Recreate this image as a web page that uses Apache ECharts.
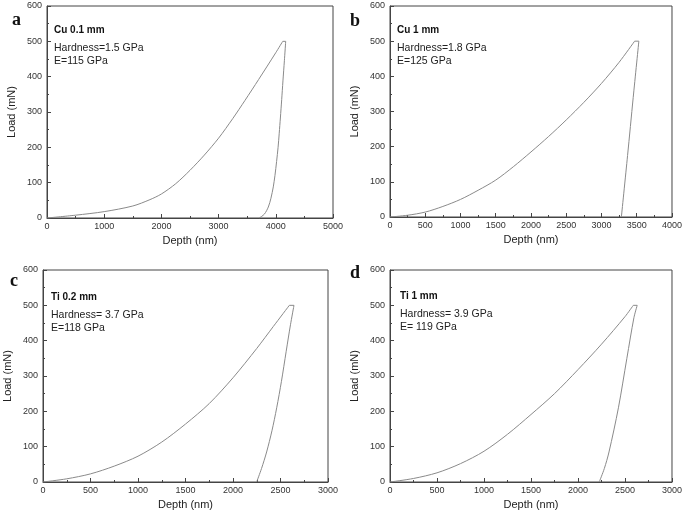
<!DOCTYPE html>
<html>
<head>
<meta charset="utf-8">
<script src="https://cdn.jsdelivr.net/npm/echarts@6/dist/echarts.min.js"></script>
<style>html,body{margin:0;padding:0;background:#fff}#c{width:685px;height:514px}</style>
</head>
<body>
<div id="c"></div>
<script>
// ---- Panel a: Cu 0.1 mm ----
const aLoadDepth   = [0, 500, 1000, 1500, 1800, 2000, 2250, 2500, 2750, 3000, 3250, 3462, 3700, 4000, 4121];
const aLoadForce   = [0, 8, 18, 34, 52, 68, 97, 135, 178, 226, 282, 333, 392, 468, 500];
const aUnloadDepth = [4173, 4150, 4125, 4103, 4080, 4060, 4040, 4014, 3985, 3956, 3915, 3869, 3800, 3712];
const aUnloadForce = [500, 445, 388, 335, 283, 240, 200, 160, 120, 88, 56, 31, 11, 0];
// ---- Panel b: Cu 1 mm ----
const bLoadDepth   = [0, 250, 500, 750, 1000, 1250, 1500, 1750, 2000, 2250, 2500, 2750, 3000, 3250, 3470];
const bLoadForce   = [0, 5, 14, 30, 50, 76, 105, 143, 185, 229, 276, 326, 380, 440, 500];
const bUnloadDepth = [3530, 3450, 3370, 3282];
const bUnloadForce = [500, 340, 175, 0];
// ---- Panel c: Ti 0.2 mm ----
const cLoadDepth   = [0, 250, 500, 750, 1000, 1250, 1500, 1750, 2000, 2250, 2424, 2593];
const cLoadForce   = [0, 9, 23, 45, 73, 113, 164, 222, 295, 378, 440, 500];
const cUnloadDepth = [2642, 2605, 2560, 2510, 2460, 2410, 2354, 2300, 2249];
const cUnloadForce = [500, 445, 370, 285, 210, 145, 85, 38, 0];
// ---- Panel d: Ti 1 mm ----
const dLoadDepth   = [0, 250, 500, 750, 1000, 1250, 1500, 1750, 2000, 2250, 2500, 2588];
const dLoadForce   = [0, 10, 26, 52, 87, 135, 191, 250, 318, 390, 468, 500];
const dUnloadDepth = [2630, 2595, 2520, 2430, 2330, 2280, 2226];
const dUnloadForce = [500, 465, 350, 210, 85, 38, 0];

const panelLetters = ['a', 'b', 'c', 'd'];
const sampleNames = ['Cu 0.1 mm', 'Cu 1 mm', 'Ti 0.2 mm', 'Ti 1 mm'];
const hardnessTexts = ['Hardness=1.5 GPa', 'Hardness=1.8 GPa', 'Hardness= 3.7 GPa', 'Hardness= 3.9 GPa'];
const modulusTexts = ['E=115 GPa', 'E=125 GPa', 'E=118 GPa', 'E= 119 GPa'];
const xMaxes = [5000, 4000, 3000, 3000];
const xIntervals = [1000, 500, 500, 500];
const yTicks = [0, 100, 200, 300, 400, 500, 600];

const loadDepths = [aLoadDepth, bLoadDepth, cLoadDepth, dLoadDepth];
const loadForces = [aLoadForce, bLoadForce, cLoadForce, dLoadForce];
const unloadDepths = [aUnloadDepth, bUnloadDepth, cUnloadDepth, dUnloadDepth];
const unloadForces = [aUnloadForce, bUnloadForce, cUnloadForce, dUnloadForce];

const grids = [
  {left: 47, top: 6, width: 286, height: 212},
  {left: 390, top: 6, width: 284, height: 211},
  {left: 43, top: 270, width: 285, height: 212},
  {left: 390, top: 270, width: 284, height: 212}
];
const letterPos = [[12, 11], [350, 12], [10, 272], [350, 264]];
const textPos = [[54, 31], [397, 31], [51, 298], [400, 297]];

const axisColor = '#444';
const font = 'Arial, "Liberation Sans", sans-serif';
const lineColor = '#8a8a8a';

const zip = (xs, ys) => xs.map((x, k) => [x, ys[k]]);
const series = [];
for (let i = 0; i < 4; i++) {
  const ld = loadDepths[i], lf = loadForces[i], ud = unloadDepths[i], uf = unloadForces[i];
  series.push({type: 'line', xAxisIndex: i, yAxisIndex: i, data: zip(ld, lf),
    showSymbol: false, smooth: 0.3, lineStyle: {color: lineColor, width: 1}});
  series.push({type: 'line', xAxisIndex: i, yAxisIndex: i,
    data: [[ld[ld.length - 1], lf[lf.length - 1]], [ud[0], uf[0]]],
    showSymbol: false, lineStyle: {color: lineColor, width: 1}});
  series.push({type: 'line', xAxisIndex: i, yAxisIndex: i, data: zip(ud, uf),
    showSymbol: false, smooth: 0.3, lineStyle: {color: lineColor, width: 1}});
}

const option = {
  animation: false,
  backgroundColor: '#fff',
  grid: grids.map(g => Object.assign({show: true, borderColor: axisColor, borderWidth: 1, containLabel: false}, g)),
  xAxis: grids.map((g, i) => ({
    gridIndex: i, type: 'value', min: 0, max: xMaxes[i], interval: xIntervals[i],
    name: 'Depth (nm)', nameLocation: 'middle', nameGap: 17,
    nameTextStyle: {fontSize: 11, fontFamily: font, color: '#222'},
    axisLine: {show: true, lineStyle: {color: axisColor, width: 1}},
    axisTick: {show: true, inside: true, length: 4, lineStyle: {color: axisColor}},
    minorTick: {show: true, splitNumber: 2, length: 2, lineStyle: {color: axisColor}},
    axisLabel: {fontSize: 9, fontFamily: font, color: '#333', margin: 4, formatter: v => String(v)},
    splitLine: {show: false}
  })),
  yAxis: grids.map((g, i) => ({
    gridIndex: i, type: 'value', min: yTicks[0], max: yTicks[yTicks.length - 1], interval: 100,
    name: 'Load (mN)', nameLocation: 'middle', nameGap: 30,
    nameTextStyle: {fontSize: 11, fontFamily: font, color: '#222'},
    axisLine: {show: true, lineStyle: {color: axisColor, width: 1}},
    axisTick: {show: true, inside: true, length: 4, lineStyle: {color: axisColor}},
    minorTick: {show: true, splitNumber: 2, length: 2, lineStyle: {color: axisColor}},
    axisLabel: {fontSize: 9, fontFamily: font, color: '#333', margin: 5, formatter: v => String(v)},
    splitLine: {show: false}
  })),
  series: series,
  graphic: []
};

panelLetters.forEach((L, i) => {
  option.graphic.push({type: 'text', left: letterPos[i][0], top: letterPos[i][1],
    style: {text: L, font: 'bold 18px "Liberation Serif", "Times New Roman", serif', fill: '#111'}});
  option.graphic.push({type: 'text', left: textPos[i][0], top: textPos[i][1] - 6,
    style: {text: sampleNames[i], font: 'bold 10px ' + font, fill: '#111'}});
  option.graphic.push({type: 'text', left: textPos[i][0], top: textPos[i][1] + 12,
    style: {text: hardnessTexts[i], font: '10.5px ' + font, fill: '#222'}});
  option.graphic.push({type: 'text', left: textPos[i][0], top: textPos[i][1] + 25,
    style: {text: modulusTexts[i], font: '10.5px ' + font, fill: '#222'}});
});

const chart = echarts.init(document.getElementById('c'), null, {renderer: 'canvas'});
chart.setOption(option);
</script>
</body>
</html>
